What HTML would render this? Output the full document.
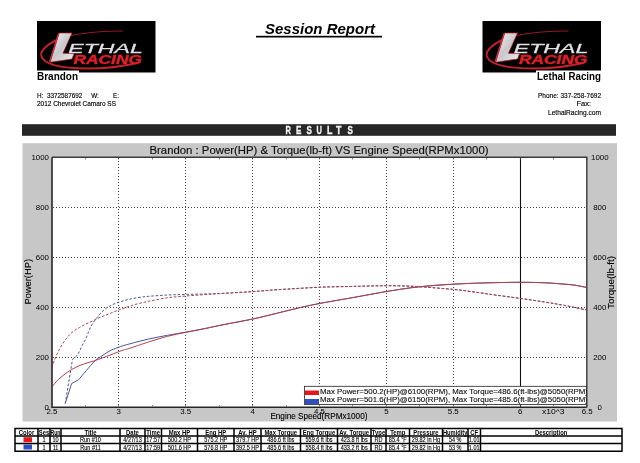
<!DOCTYPE html>
<html><head><meta charset="utf-8"><style>
html,body{margin:0;padding:0;background:#fff;width:640px;height:463px;overflow:hidden}
svg{display:block;will-change:transform}
text{font-family:"Liberation Sans",sans-serif}
</style></head><body>
<svg width="640" height="463" viewBox="0 0 640 463">
<g transform="translate(37,21)">
<rect x="0" y="0" width="118.5" height="51.5" fill="#000"/>
<path d="M22,18 C10,23 3,30 4.3,35 C7,44 25,47.3 50,47.5 C70,47.5 88,45 100,42" stroke="#c0222c" stroke-width="2" fill="none"/>
<path d="M34,14.5 C50,11.5 65,10 86,10" stroke="#9a1a24" stroke-width="1" fill="none"/>
<path d="M22.2,12 L35,12 L25.9,32.3 L37,32.7 L35,38 L13.2,41.2 Z" fill="url(#lg37)" stroke="#c02030" stroke-width="0.7"/>
<path d="M21.6,12.5 L12.6,40.8" stroke="#d03040" stroke-width="1.3"/>
<defs><linearGradient id="lg37" x1="0" y1="0" x2="1" y2="1"><stop offset="0" stop-color="#f4f4f6"/><stop offset="0.5" stop-color="#c8c8cc"/><stop offset="1" stop-color="#f0f0f2"/></linearGradient></defs>
<text x="31.3" y="31.8" font-family="Liberation Sans" font-style="italic" font-size="13.6" fill="#e4e4e8" stroke="#d8d8dc" stroke-width="0.3" textLength="74.5" lengthAdjust="spacingAndGlyphs">ETHAL</text>
<text x="36.5" y="42.6" font-family="Liberation Sans" font-weight="bold" font-style="italic" font-size="13" fill="#e41e26" stroke="#e41e26" stroke-width="0.4" textLength="68.5" lengthAdjust="spacingAndGlyphs">RACING</text>
</g>
<g transform="translate(482.5,21)">
<rect x="0" y="0" width="118.5" height="51.5" fill="#000"/>
<path d="M22,18 C10,23 3,30 4.3,35 C7,44 25,47.3 50,47.5 C70,47.5 88,45 100,42" stroke="#c0222c" stroke-width="2" fill="none"/>
<path d="M34,14.5 C50,11.5 65,10 86,10" stroke="#9a1a24" stroke-width="1" fill="none"/>
<path d="M22.2,12 L35,12 L25.9,32.3 L37,32.7 L35,38 L13.2,41.2 Z" fill="url(#lg482.5)" stroke="#c02030" stroke-width="0.7"/>
<path d="M21.6,12.5 L12.6,40.8" stroke="#d03040" stroke-width="1.3"/>
<defs><linearGradient id="lg482.5" x1="0" y1="0" x2="1" y2="1"><stop offset="0" stop-color="#f4f4f6"/><stop offset="0.5" stop-color="#c8c8cc"/><stop offset="1" stop-color="#f0f0f2"/></linearGradient></defs>
<text x="31.3" y="31.8" font-family="Liberation Sans" font-style="italic" font-size="13.6" fill="#e4e4e8" stroke="#d8d8dc" stroke-width="0.3" textLength="74.5" lengthAdjust="spacingAndGlyphs">ETHAL</text>
<text x="36.5" y="42.6" font-family="Liberation Sans" font-weight="bold" font-style="italic" font-size="13" fill="#e41e26" stroke="#e41e26" stroke-width="0.4" textLength="68.5" lengthAdjust="spacingAndGlyphs">RACING</text>
</g>
<rect x="37" y="70.5" width="42" height="3" fill="#fff"/>
<text x="37" y="80" font-size="10" text-anchor="start" font-weight="bold" font-style="normal" fill="#000" textLength="41" lengthAdjust="spacingAndGlyphs" >Brandon</text>
<text x="37" y="97.8" font-size="7.5" text-anchor="start" font-weight="normal" font-style="normal" fill="#000" textLength="82" lengthAdjust="spacingAndGlyphs" stroke="#000" stroke-width="0.15">H:&#160;&#160;3372587692&#160;&#160;&#160;&#160;&#160;W:&#160;&#160;&#160;&#160;&#160;&#160;&#160;&#160;E:</text>
<text x="37" y="106" font-size="7" text-anchor="start" font-weight="normal" font-style="normal" fill="#000" textLength="79" lengthAdjust="spacingAndGlyphs" stroke="#000" stroke-width="0.15">2012 Chevrolet Camaro SS</text>
<text x="265" y="34.3" font-size="14.5" text-anchor="start" font-weight="bold" font-style="italic" fill="#000" textLength="110" lengthAdjust="spacingAndGlyphs" >Session Report</text>
<rect x="256" y="35.8" width="126" height="1.7" fill="#000"/>
<rect x="536" y="70.5" width="66" height="3" fill="#fff"/>
<text x="601" y="80.3" font-size="10" text-anchor="end" font-weight="bold" font-style="normal" fill="#000" textLength="64" lengthAdjust="spacingAndGlyphs" >Lethal Racing</text>
<text x="601" y="97.7" font-size="7.5" text-anchor="end" font-weight="normal" font-style="normal" fill="#000" textLength="63" lengthAdjust="spacingAndGlyphs" stroke="#000" stroke-width="0.15">Phone: 337-258-7692</text>
<text x="591" y="106" font-size="7.5" text-anchor="end" font-weight="normal" font-style="normal" fill="#000" stroke="#000" stroke-width="0.15">Fax:</text>
<text x="601" y="114.6" font-size="7.5" text-anchor="end" font-weight="normal" font-style="normal" fill="#000" textLength="53" lengthAdjust="spacingAndGlyphs" stroke="#000" stroke-width="0.15">LethalRacing.com</text>
<rect x="22" y="124.2" width="594" height="11.6" fill="#262626"/>
<text x="285.5" y="133.8" font-size="10" text-anchor="start" font-weight="bold" font-style="normal" fill="#f0f0f0" textLength="5.4" lengthAdjust="spacingAndGlyphs" stroke="#f0f0f0" stroke-width="0.35">R</text>
<text x="296" y="133.8" font-size="10" text-anchor="start" font-weight="bold" font-style="normal" fill="#f0f0f0" textLength="5.4" lengthAdjust="spacingAndGlyphs" stroke="#f0f0f0" stroke-width="0.35">E</text>
<text x="306.6" y="133.8" font-size="10" text-anchor="start" font-weight="bold" font-style="normal" fill="#f0f0f0" textLength="5.4" lengthAdjust="spacingAndGlyphs" stroke="#f0f0f0" stroke-width="0.35">S</text>
<text x="316.5" y="133.8" font-size="10" text-anchor="start" font-weight="bold" font-style="normal" fill="#f0f0f0" textLength="5.4" lengthAdjust="spacingAndGlyphs" stroke="#f0f0f0" stroke-width="0.35">U</text>
<text x="327" y="133.8" font-size="10" text-anchor="start" font-weight="bold" font-style="normal" fill="#f0f0f0" textLength="5.4" lengthAdjust="spacingAndGlyphs" stroke="#f0f0f0" stroke-width="0.35">L</text>
<text x="336" y="133.8" font-size="10" text-anchor="start" font-weight="bold" font-style="normal" fill="#f0f0f0" textLength="5.4" lengthAdjust="spacingAndGlyphs" stroke="#f0f0f0" stroke-width="0.35">T</text>
<text x="347.4" y="133.8" font-size="10" text-anchor="start" font-weight="bold" font-style="normal" fill="#f0f0f0" textLength="5.4" lengthAdjust="spacingAndGlyphs" stroke="#f0f0f0" stroke-width="0.35">S</text>
<rect x="22.5" y="143.2" width="594.5" height="278.3" fill="#c7c7c7"/>
<text x="149.5" y="153.8" font-size="11.4" text-anchor="start" font-weight="normal" font-style="normal" fill="#111" textLength="339" lengthAdjust="spacingAndGlyphs" stroke="#111" stroke-width="0.18">Brandon : Power(HP) &amp; Torque(lb-ft) VS Engine Speed(RPMx1000)</text>
<rect x="52" y="157.3" width="534.8" height="249.9" fill="#fff"/>
<path d="M53,357.5 H586 M53,307.5 H586 M53,257.5 H586 M53,207.5 H586 M118.5,158 V406.5 M185.5,158 V406.5 M252.5,158 V406.5 M319.5,158 V406.5 M386.5,158 V406.5 M453.5,158 V406.5" stroke="#454545" stroke-width="1" stroke-dasharray="1,2" fill="none"/>
<path d="M520.5,157 V407" stroke="#111" stroke-width="1.1"/>
<path d="M65.2,403.5 L71.6,383.6 L78.5,379.8 C79.8,378.3 83.5,373.8 86.3,370.6 C89.0,367.4 92.4,363.2 95.0,360.8 C97.6,358.4 99.4,357.6 101.9,355.9 C104.4,354.2 107.3,352.2 110.0,350.8 C112.7,349.4 114.9,348.6 118.2,347.4 C121.5,346.2 124.9,345.1 130.0,343.8 C135.1,342.4 142.6,340.4 148.8,339.0 C155.1,337.6 161.3,336.4 167.5,335.3 C173.7,334.2 179.4,333.2 185.7,332.1 C191.9,331.0 198.7,329.8 205.0,328.5 C211.3,327.2 215.8,326.2 223.8,324.6 C231.8,323.0 243.8,320.9 252.8,319.0 C261.7,317.1 269.6,315.0 277.5,313.1 C285.4,311.2 292.9,309.2 300.0,307.6 C307.1,306.0 311.2,305.1 320.0,303.4 C328.8,301.7 341.7,299.6 352.8,297.6 C363.9,295.6 378.2,292.9 386.6,291.5 C395.0,290.1 397.7,289.7 403.0,288.9 C408.3,288.1 412.9,287.5 418.4,286.9 C423.9,286.3 430.1,285.8 436.0,285.3 C441.9,284.9 447.8,284.5 453.5,284.2 C459.2,283.9 464.1,283.6 470.0,283.4 C475.9,283.2 480.4,283.0 488.8,282.8 C497.1,282.6 510.9,282.3 520.2,282.3 C529.6,282.3 537.8,282.5 545.0,282.8 C552.2,283.1 558.8,283.7 563.8,284.1 C568.8,284.5 571.3,284.7 575.0,285.2 C578.7,285.8 584.2,287.0 586.0,287.3" stroke="#4c5698" stroke-width="1" fill="none"/>
<path d="M65.2,403.5 L72.5,359.4 L75.9,356.8 C76.5,355.9 78.4,353.5 79.4,351.6 C80.4,349.7 80.9,347.8 82.0,345.6 C83.1,343.4 84.8,340.9 85.9,338.5 C87.1,336.1 87.8,333.5 88.9,331.0 C90.0,328.5 90.7,326.3 92.4,323.7 C94.1,321.1 96.7,317.8 98.9,315.3 C101.1,312.8 103.2,310.5 105.4,308.8 C107.6,307.1 109.8,306.0 111.9,304.9 C114.1,303.8 116.2,303.1 118.3,302.3 C120.4,301.6 122.6,301.0 124.8,300.4 C127.0,299.8 128.8,299.3 131.3,298.8 C133.8,298.3 137.1,297.7 140.0,297.3 C142.9,296.9 144.2,296.7 148.8,296.3 C153.4,295.9 161.3,295.3 167.5,295.0 C173.7,294.7 179.4,294.6 185.7,294.4 C191.9,294.2 198.7,294.2 205.0,294.0 C211.3,293.8 215.8,293.7 223.8,293.3 C231.8,292.9 243.8,292.2 252.8,291.6 C261.7,291.0 266.3,290.4 277.5,289.7 C288.7,289.0 307.6,287.8 319.7,287.2 C331.8,286.7 341.8,286.7 350.0,286.5 C358.2,286.3 362.6,286.1 368.8,286.0 C374.9,285.9 380.4,285.7 386.6,285.7 C392.9,285.7 399.9,285.8 406.2,286.0 C412.6,286.2 417.1,286.5 425.0,287.1 C432.9,287.7 446.0,288.7 453.5,289.4 C461.0,290.1 464.1,290.6 470.0,291.4 C475.9,292.2 480.4,292.9 488.8,294.1 C497.1,295.3 510.9,297.1 520.2,298.4 C529.6,299.7 537.8,301.0 545.0,302.1 C552.2,303.2 556.9,304.0 563.8,305.3 C570.6,306.6 582.3,309.1 586.0,309.8" stroke="#4c5698" stroke-width="1" stroke-dasharray="2.6,1.8" fill="none"/>
<path d="M52.3,386.5 C53.3,385.3 56.1,381.7 58.6,379.3 C61.1,376.9 64.4,374.4 67.3,372.4 C70.2,370.4 73.0,368.6 75.9,367.2 C78.8,365.8 81.4,364.8 84.6,363.7 C87.8,362.6 90.8,362.0 95.0,360.6 C99.2,359.2 105.2,356.9 110.0,355.1 C114.8,353.3 120.2,351.1 123.5,350.0 C126.8,348.9 125.8,349.6 130.0,348.2 C134.2,346.8 142.6,343.9 148.8,341.9 C155.1,339.9 161.3,337.9 167.5,336.3 C173.7,334.7 179.4,333.7 185.7,332.4 C191.9,331.1 198.7,329.9 205.0,328.6 C211.3,327.3 215.8,326.2 223.8,324.6 C231.8,323.0 243.8,320.9 252.8,319.0 C261.7,317.1 269.6,315.0 277.5,313.1 C285.4,311.2 292.9,309.2 300.0,307.6 C307.1,306.0 311.2,305.1 320.0,303.4 C328.8,301.7 341.7,299.6 352.8,297.6 C363.9,295.6 378.2,292.9 386.6,291.5 C395.0,290.1 397.7,289.7 403.0,288.9 C408.3,288.1 412.9,287.5 418.4,286.9 C423.9,286.3 430.1,285.8 436.0,285.3 C441.9,284.9 447.8,284.5 453.5,284.2 C459.2,283.9 464.1,283.6 470.0,283.4 C475.9,283.2 480.4,283.0 488.8,282.8 C497.1,282.6 510.9,282.3 520.2,282.3 C529.6,282.3 537.8,282.5 545.0,282.8 C552.2,283.1 558.8,283.7 563.8,284.1 C568.8,284.5 571.3,284.7 575.0,285.2 C578.7,285.8 584.2,287.0 586.0,287.3" stroke="#b0404c" stroke-width="1" fill="none"/>
<path d="M52.3,366.0 C52.5,365.3 52.8,364.5 53.8,362.0 C54.8,359.5 56.6,354.6 58.6,350.8 C60.6,347.0 63.6,342.2 66.0,339.0 C68.4,335.8 70.8,333.4 73.0,331.5 C75.2,329.6 77.2,328.9 79.4,327.6 C81.6,326.4 83.7,325.1 85.9,324.0 C88.1,322.9 90.2,322.1 92.4,321.1 C94.6,320.1 96.7,318.9 98.9,317.9 C101.1,316.9 103.2,316.2 105.4,315.3 C107.6,314.4 109.8,313.6 111.9,312.7 C114.1,311.8 116.2,310.9 118.3,310.1 C120.4,309.3 122.6,308.6 124.8,307.9 C127.0,307.1 128.8,306.4 131.3,305.6 C133.8,304.8 137.1,303.9 140.0,303.2 C142.9,302.5 144.2,302.2 148.8,301.3 C153.4,300.4 161.3,298.7 167.5,297.8 C173.7,296.9 179.4,296.5 185.7,296.0 C191.9,295.5 198.7,295.1 205.0,294.6 C211.3,294.2 215.8,293.8 223.8,293.3 C231.8,292.8 243.8,292.2 252.8,291.6 C261.7,291.0 266.3,290.4 277.5,289.7 C288.7,289.0 307.6,287.8 319.7,287.2 C331.8,286.7 341.8,286.7 350.0,286.5 C358.2,286.3 362.6,286.1 368.8,286.0 C374.9,285.9 380.4,285.7 386.6,285.7 C392.9,285.7 399.9,285.8 406.2,286.0 C412.6,286.2 417.1,286.5 425.0,287.1 C432.9,287.7 446.0,288.7 453.5,289.4 C461.0,290.1 464.1,290.6 470.0,291.4 C475.9,292.2 480.4,292.9 488.8,294.1 C497.1,295.3 510.9,297.1 520.2,298.4 C529.6,299.7 537.8,301.0 545.0,302.1 C552.2,303.2 556.9,304.0 563.8,305.3 C570.6,306.6 582.3,309.1 586.0,309.8" stroke="#b0404c" stroke-width="1" stroke-dasharray="2.6,1.8" stroke-dashoffset="1.5" fill="none"/>
<path d="M52,157.3 H586.8 V407.2" fill="none" stroke="#3a3a3a" stroke-width="1.4"/>
<path d="M52,157.3 V407.2 H586.8" fill="none" stroke="#262626" stroke-width="1.6"/>
<path d="M51.5,158 v1.5 M51.5,406.5 v-1.5 M85.5,158 v1.5 M85.5,406.5 v-1.5 M118.5,158 v1.5 M118.5,406.5 v-1.5 M152.5,158 v1.5 M152.5,406.5 v-1.5 M185.5,158 v1.5 M185.5,406.5 v-1.5 M219.5,158 v1.5 M219.5,406.5 v-1.5 M252.5,158 v1.5 M252.5,406.5 v-1.5 M286.5,158 v1.5 M286.5,406.5 v-1.5 M319.5,158 v1.5 M319.5,406.5 v-1.5 M352.5,158 v1.5 M352.5,406.5 v-1.5 M386.5,158 v1.5 M386.5,406.5 v-1.5 M419.5,158 v1.5 M419.5,406.5 v-1.5 M453.5,158 v1.5 M453.5,406.5 v-1.5 M486.5,158 v1.5 M486.5,406.5 v-1.5 M520.5,158 v1.5 M520.5,406.5 v-1.5 M553.5,158 v1.5 M553.5,406.5 v-1.5 M587.5,158 v1.5 M587.5,406.5 v-1.5" stroke="#555" stroke-width="0.7"/>
<text x="49" y="410.0" font-size="7.5" text-anchor="end" font-weight="normal" font-style="normal" fill="#000" textLength="4.38" lengthAdjust="spacingAndGlyphs" >0</text>
<text x="599.8" y="410.0" font-size="7.5" text-anchor="middle" font-weight="normal" font-style="normal" fill="#000" textLength="4.38" lengthAdjust="spacingAndGlyphs" >0</text>
<text x="49" y="360.0" font-size="7.5" text-anchor="end" font-weight="normal" font-style="normal" fill="#000" textLength="13.14" lengthAdjust="spacingAndGlyphs" >200</text>
<text x="599.8" y="360.0" font-size="7.5" text-anchor="middle" font-weight="normal" font-style="normal" fill="#000" textLength="13.14" lengthAdjust="spacingAndGlyphs" >200</text>
<text x="49" y="310.0" font-size="7.5" text-anchor="end" font-weight="normal" font-style="normal" fill="#000" textLength="13.14" lengthAdjust="spacingAndGlyphs" >400</text>
<text x="599.8" y="310.0" font-size="7.5" text-anchor="middle" font-weight="normal" font-style="normal" fill="#000" textLength="13.14" lengthAdjust="spacingAndGlyphs" >400</text>
<text x="49" y="260.0" font-size="7.5" text-anchor="end" font-weight="normal" font-style="normal" fill="#000" textLength="13.14" lengthAdjust="spacingAndGlyphs" >600</text>
<text x="599.8" y="260.0" font-size="7.5" text-anchor="middle" font-weight="normal" font-style="normal" fill="#000" textLength="13.14" lengthAdjust="spacingAndGlyphs" >600</text>
<text x="49" y="210.0" font-size="7.5" text-anchor="end" font-weight="normal" font-style="normal" fill="#000" textLength="13.14" lengthAdjust="spacingAndGlyphs" >800</text>
<text x="599.8" y="210.0" font-size="7.5" text-anchor="middle" font-weight="normal" font-style="normal" fill="#000" textLength="13.14" lengthAdjust="spacingAndGlyphs" >800</text>
<text x="49" y="160.0" font-size="7.5" text-anchor="end" font-weight="normal" font-style="normal" fill="#000" textLength="17.52" lengthAdjust="spacingAndGlyphs" >1000</text>
<text x="599.8" y="160.0" font-size="7.5" text-anchor="middle" font-weight="normal" font-style="normal" fill="#000" textLength="17.52" lengthAdjust="spacingAndGlyphs" >1000</text>
<text x="51.9" y="414.2" font-size="7.5" text-anchor="middle" font-weight="normal" font-style="normal" fill="#000" textLength="10.95" lengthAdjust="spacingAndGlyphs" >2.5</text>
<text x="118.8" y="414.2" font-size="7.5" text-anchor="middle" font-weight="normal" font-style="normal" fill="#000" textLength="4.38" lengthAdjust="spacingAndGlyphs" >3</text>
<text x="185.7" y="414.2" font-size="7.5" text-anchor="middle" font-weight="normal" font-style="normal" fill="#000" textLength="10.95" lengthAdjust="spacingAndGlyphs" >3.5</text>
<text x="252.6" y="414.2" font-size="7.5" text-anchor="middle" font-weight="normal" font-style="normal" fill="#000" textLength="4.38" lengthAdjust="spacingAndGlyphs" >4</text>
<text x="319.5" y="414.2" font-size="7.5" text-anchor="middle" font-weight="normal" font-style="normal" fill="#000" textLength="10.95" lengthAdjust="spacingAndGlyphs" >4.5</text>
<text x="386.4" y="414.2" font-size="7.5" text-anchor="middle" font-weight="normal" font-style="normal" fill="#000" textLength="4.38" lengthAdjust="spacingAndGlyphs" >5</text>
<text x="453.3" y="414.2" font-size="7.5" text-anchor="middle" font-weight="normal" font-style="normal" fill="#000" textLength="10.95" lengthAdjust="spacingAndGlyphs" >5.5</text>
<text x="520.2" y="414.2" font-size="7.5" text-anchor="middle" font-weight="normal" font-style="normal" fill="#000" textLength="4.38" lengthAdjust="spacingAndGlyphs" >6</text>
<text x="587.1" y="414.2" font-size="7.5" text-anchor="middle" font-weight="normal" font-style="normal" fill="#000" textLength="10.95" lengthAdjust="spacingAndGlyphs" >6.5</text>
<text x="553.2" y="414.2" font-size="7.5" text-anchor="middle" font-weight="normal" font-style="normal" fill="#000" textLength="22.5" lengthAdjust="spacingAndGlyphs" >x10^3</text>
<text x="270.4" y="419.4" font-size="8.2" text-anchor="start" font-weight="normal" font-style="normal" fill="#000" textLength="97" lengthAdjust="spacingAndGlyphs" stroke="#000" stroke-width="0.12">Engine Speed(RPMx1000)</text>
<text transform="translate(30.9,304.5) rotate(-90)" font-size="8.4" fill="#000" stroke="#000" stroke-width="0.12" textLength="45.5" lengthAdjust="spacingAndGlyphs">Power(HP)</text>
<text transform="translate(613.8,309) rotate(-90)" font-size="8.4" fill="#000" stroke="#000" stroke-width="0.12" textLength="53" lengthAdjust="spacingAndGlyphs">Torque(lb-ft)</text>
<rect x="304.5" y="386.3" width="282" height="18.2" fill="#fff" stroke="#222" stroke-width="0.8"/>
<rect x="305" y="390.5" width="14" height="4.5" fill="#e8161b"/>
<rect x="305" y="399" width="14" height="5" fill="#2f4fbf"/>
<svg x="304.5" y="386.3" width="282" height="18.2" overflow="hidden">
<text x="15.5" y="7.5" font-size="7" text-anchor="start" font-weight="normal" font-style="normal" fill="#111" textLength="268" lengthAdjust="spacingAndGlyphs" stroke="#111" stroke-width="0.12">Max Power=500.2(HP)@6100(RPM), Max Torque=486.6(ft-lbs)@5050(RPM)</text>
<text x="15.5" y="16.2" font-size="7" text-anchor="start" font-weight="normal" font-style="normal" fill="#111" textLength="268" lengthAdjust="spacingAndGlyphs" stroke="#111" stroke-width="0.12">Max Power=501.6(HP)@6150(RPM), Max Torque=485.6(ft-lbs)@5050(RPM)</text>
</svg>
<rect x="15" y="428.6" width="607" height="22.599999999999966" fill="#fff"/>
<path d="M15,428.6 H622 M15,436.1 H622 M15,443.6 H622 M15,451.2 H622 M15,428.6 V451.2 M38,428.6 V451.2 M50,428.6 V451.2 M61,428.6 V451.2 M120,428.6 V451.2 M145,428.6 V451.2 M161.5,428.6 V451.2 M197.5,428.6 V451.2 M234,428.6 V451.2 M261,428.6 V451.2 M300.5,428.6 V451.2 M337.5,428.6 V451.2 M371,428.6 V451.2 M386,428.6 V451.2 M409.5,428.6 V451.2 M442.5,428.6 V451.2 M468,428.6 V451.2 M480.5,428.6 V451.2 M622,428.6 V451.2" stroke="#000" stroke-width="1.5" stroke-linecap="square" fill="none"/>
<text x="26.5" y="435" font-size="7.2" text-anchor="middle" font-weight="bold" font-style="normal" fill="#000" textLength="15.41" lengthAdjust="spacingAndGlyphs" >Color</text>
<text x="44.0" y="435" font-size="7.2" text-anchor="middle" font-weight="bold" font-style="normal" fill="#000" textLength="10.5" lengthAdjust="spacingAndGlyphs" >Ses</text>
<text x="44.0" y="442.1" font-size="6.5" text-anchor="middle" font-weight="normal" font-style="normal" fill="#000" textLength="3.07" lengthAdjust="spacingAndGlyphs" stroke="#000" stroke-width="0.12">1</text>
<text x="44.0" y="449.6" font-size="6.5" text-anchor="middle" font-weight="normal" font-style="normal" fill="#000" textLength="3.07" lengthAdjust="spacingAndGlyphs" stroke="#000" stroke-width="0.12">1</text>
<text x="55.5" y="435" font-size="7.2" text-anchor="middle" font-weight="bold" font-style="normal" fill="#000" textLength="10" lengthAdjust="spacingAndGlyphs" >Run</text>
<text x="55.5" y="442.1" font-size="6.5" text-anchor="middle" font-weight="normal" font-style="normal" fill="#000" textLength="6.14" lengthAdjust="spacingAndGlyphs" stroke="#000" stroke-width="0.12">10</text>
<text x="55.5" y="449.6" font-size="6.5" text-anchor="middle" font-weight="normal" font-style="normal" fill="#000" textLength="5.73" lengthAdjust="spacingAndGlyphs" stroke="#000" stroke-width="0.12">11</text>
<text x="90.5" y="435" font-size="7.2" text-anchor="middle" font-weight="bold" font-style="normal" fill="#000" textLength="12.03" lengthAdjust="spacingAndGlyphs" >Title</text>
<text x="90.5" y="442.1" font-size="6.5" text-anchor="middle" font-weight="normal" font-style="normal" fill="#000" textLength="20.89" lengthAdjust="spacingAndGlyphs" stroke="#000" stroke-width="0.12">Run #10</text>
<text x="90.5" y="449.6" font-size="6.5" text-anchor="middle" font-weight="normal" font-style="normal" fill="#000" textLength="20.48" lengthAdjust="spacingAndGlyphs" stroke="#000" stroke-width="0.12">Run #11</text>
<text x="132.5" y="435" font-size="7.2" text-anchor="middle" font-weight="bold" font-style="normal" fill="#000" textLength="12.8" lengthAdjust="spacingAndGlyphs" >Date</text>
<text x="132.5" y="442.1" font-size="6.5" text-anchor="middle" font-weight="normal" font-style="normal" fill="#000" textLength="18.43" lengthAdjust="spacingAndGlyphs" stroke="#000" stroke-width="0.12">4/27/13</text>
<text x="132.5" y="449.6" font-size="6.5" text-anchor="middle" font-weight="normal" font-style="normal" fill="#000" textLength="18.43" lengthAdjust="spacingAndGlyphs" stroke="#000" stroke-width="0.12">4/27/13</text>
<text x="153.2" y="435" font-size="7.2" text-anchor="middle" font-weight="bold" font-style="normal" fill="#000" textLength="13.67" lengthAdjust="spacingAndGlyphs" >Time</text>
<text x="153.2" y="442.1" font-size="6.5" text-anchor="middle" font-weight="normal" font-style="normal" fill="#000" textLength="13.82" lengthAdjust="spacingAndGlyphs" stroke="#000" stroke-width="0.12">17:57</text>
<text x="153.2" y="449.6" font-size="6.5" text-anchor="middle" font-weight="normal" font-style="normal" fill="#000" textLength="13.82" lengthAdjust="spacingAndGlyphs" stroke="#000" stroke-width="0.12">17:59</text>
<text x="179.5" y="435" font-size="7.2" text-anchor="middle" font-weight="bold" font-style="normal" fill="#000" textLength="21.33" lengthAdjust="spacingAndGlyphs" >Max HP</text>
<text x="179.5" y="442.1" font-size="6.5" text-anchor="middle" font-weight="normal" font-style="normal" fill="#000" textLength="23.03" lengthAdjust="spacingAndGlyphs" stroke="#000" stroke-width="0.12">500.2 HP</text>
<text x="179.5" y="449.6" font-size="6.5" text-anchor="middle" font-weight="normal" font-style="normal" fill="#000" textLength="23.03" lengthAdjust="spacingAndGlyphs" stroke="#000" stroke-width="0.12">501.6 HP</text>
<text x="215.8" y="435" font-size="7.2" text-anchor="middle" font-weight="bold" font-style="normal" fill="#000" textLength="20.99" lengthAdjust="spacingAndGlyphs" >Eng HP</text>
<text x="215.8" y="442.1" font-size="6.5" text-anchor="middle" font-weight="normal" font-style="normal" fill="#000" textLength="23.03" lengthAdjust="spacingAndGlyphs" stroke="#000" stroke-width="0.12">575.2 HP</text>
<text x="215.8" y="449.6" font-size="6.5" text-anchor="middle" font-weight="normal" font-style="normal" fill="#000" textLength="23.03" lengthAdjust="spacingAndGlyphs" stroke="#000" stroke-width="0.12">576.8 HP</text>
<text x="247.5" y="435" font-size="7.2" text-anchor="middle" font-weight="bold" font-style="normal" fill="#000" textLength="18.37" lengthAdjust="spacingAndGlyphs" >Av. HP</text>
<text x="247.5" y="442.1" font-size="6.5" text-anchor="middle" font-weight="normal" font-style="normal" fill="#000" textLength="23.03" lengthAdjust="spacingAndGlyphs" stroke="#000" stroke-width="0.12">379.7 HP</text>
<text x="247.5" y="449.6" font-size="6.5" text-anchor="middle" font-weight="normal" font-style="normal" fill="#000" textLength="23.03" lengthAdjust="spacingAndGlyphs" stroke="#000" stroke-width="0.12">392.5 HP</text>
<text x="280.8" y="435" font-size="7.2" text-anchor="middle" font-weight="bold" font-style="normal" fill="#000" textLength="32.69" lengthAdjust="spacingAndGlyphs" >Max Torque</text>
<text x="280.8" y="442.1" font-size="6.5" text-anchor="middle" font-weight="normal" font-style="normal" fill="#000" textLength="27.03" lengthAdjust="spacingAndGlyphs" stroke="#000" stroke-width="0.12">486.6 ft lbs</text>
<text x="280.8" y="449.6" font-size="6.5" text-anchor="middle" font-weight="normal" font-style="normal" fill="#000" textLength="27.03" lengthAdjust="spacingAndGlyphs" stroke="#000" stroke-width="0.12">485.6 ft lbs</text>
<text x="319.0" y="435" font-size="7.2" text-anchor="middle" font-weight="bold" font-style="normal" fill="#000" textLength="32.36" lengthAdjust="spacingAndGlyphs" >Eng Torque</text>
<text x="319.0" y="442.1" font-size="6.5" text-anchor="middle" font-weight="normal" font-style="normal" fill="#000" textLength="27.03" lengthAdjust="spacingAndGlyphs" stroke="#000" stroke-width="0.12">559.6 ft lbs</text>
<text x="319.0" y="449.6" font-size="6.5" text-anchor="middle" font-weight="normal" font-style="normal" fill="#000" textLength="27.03" lengthAdjust="spacingAndGlyphs" stroke="#000" stroke-width="0.12">558.4 ft lbs</text>
<text x="354.2" y="435" font-size="7.2" text-anchor="middle" font-weight="bold" font-style="normal" fill="#000" textLength="29.74" lengthAdjust="spacingAndGlyphs" >Av. Torque</text>
<text x="354.2" y="442.1" font-size="6.5" text-anchor="middle" font-weight="normal" font-style="normal" fill="#000" textLength="27.03" lengthAdjust="spacingAndGlyphs" stroke="#000" stroke-width="0.12">423.8 ft lbs</text>
<text x="354.2" y="449.6" font-size="6.5" text-anchor="middle" font-weight="normal" font-style="normal" fill="#000" textLength="27.03" lengthAdjust="spacingAndGlyphs" stroke="#000" stroke-width="0.12">433.2 ft lbs</text>
<text x="378.5" y="435" font-size="7.2" text-anchor="middle" font-weight="bold" font-style="normal" fill="#000" textLength="13.34" lengthAdjust="spacingAndGlyphs" >Type</text>
<text x="378.5" y="442.1" font-size="6.5" text-anchor="middle" font-weight="normal" font-style="normal" fill="#000" textLength="7.98" lengthAdjust="spacingAndGlyphs" stroke="#000" stroke-width="0.12">RD</text>
<text x="378.5" y="449.6" font-size="6.5" text-anchor="middle" font-weight="normal" font-style="normal" fill="#000" textLength="7.98" lengthAdjust="spacingAndGlyphs" stroke="#000" stroke-width="0.12">RD</text>
<text x="397.8" y="435" font-size="7.2" text-anchor="middle" font-weight="bold" font-style="normal" fill="#000" textLength="15.31" lengthAdjust="spacingAndGlyphs" >Temp</text>
<text x="397.8" y="442.1" font-size="6.5" text-anchor="middle" font-weight="normal" font-style="normal" fill="#000" textLength="17.87" lengthAdjust="spacingAndGlyphs" stroke="#000" stroke-width="0.12">85.4 &#176;F</text>
<text x="397.8" y="449.6" font-size="6.5" text-anchor="middle" font-weight="normal" font-style="normal" fill="#000" textLength="17.87" lengthAdjust="spacingAndGlyphs" stroke="#000" stroke-width="0.12">85.4 &#176;F</text>
<text x="426.0" y="435" font-size="7.2" text-anchor="middle" font-weight="bold" font-style="normal" fill="#000" textLength="25.27" lengthAdjust="spacingAndGlyphs" >Pressure</text>
<text x="426.0" y="442.1" font-size="6.5" text-anchor="middle" font-weight="normal" font-style="normal" fill="#000" textLength="28.26" lengthAdjust="spacingAndGlyphs" stroke="#000" stroke-width="0.12">29.82 in Hg</text>
<text x="426.0" y="449.6" font-size="6.5" text-anchor="middle" font-weight="normal" font-style="normal" fill="#000" textLength="28.26" lengthAdjust="spacingAndGlyphs" stroke="#000" stroke-width="0.12">29.82 in Hg</text>
<text x="455.2" y="435" font-size="7.2" text-anchor="middle" font-weight="bold" font-style="normal" fill="#000" textLength="24.5" lengthAdjust="spacingAndGlyphs" >Humidity</text>
<text x="455.2" y="442.1" font-size="6.5" text-anchor="middle" font-weight="normal" font-style="normal" fill="#000" textLength="12.59" lengthAdjust="spacingAndGlyphs" stroke="#000" stroke-width="0.12">54 %</text>
<text x="455.2" y="449.6" font-size="6.5" text-anchor="middle" font-weight="normal" font-style="normal" fill="#000" textLength="12.59" lengthAdjust="spacingAndGlyphs" stroke="#000" stroke-width="0.12">53 %</text>
<text x="474.2" y="435" font-size="7.2" text-anchor="middle" font-weight="bold" font-style="normal" fill="#000" textLength="7.87" lengthAdjust="spacingAndGlyphs" >CF</text>
<text x="474.2" y="442.1" font-size="6.5" text-anchor="middle" font-weight="normal" font-style="normal" fill="#000" textLength="10.75" lengthAdjust="spacingAndGlyphs" stroke="#000" stroke-width="0.12">1.01</text>
<text x="474.2" y="449.6" font-size="6.5" text-anchor="middle" font-weight="normal" font-style="normal" fill="#000" textLength="10.75" lengthAdjust="spacingAndGlyphs" stroke="#000" stroke-width="0.12">1.01</text>
<text x="551.2" y="435" font-size="7.2" text-anchor="middle" font-weight="bold" font-style="normal" fill="#000" textLength="32.48" lengthAdjust="spacingAndGlyphs" >Description</text>
<rect x="23.5" y="437.2" width="8.5" height="5" fill="#e8161b"/>
<rect x="23.5" y="444.5" width="8.5" height="5" fill="#2f4fbf"/>
</svg>
</body></html>
